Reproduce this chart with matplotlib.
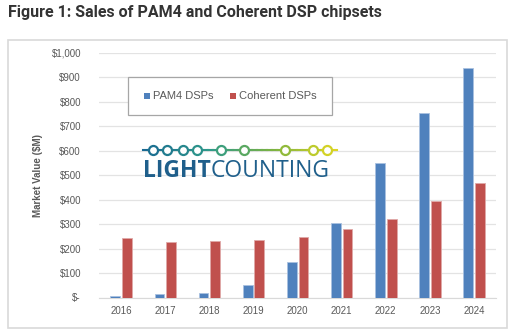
import numpy as np
import matplotlib.pyplot as plt
from matplotlib.patches import Rectangle
from matplotlib.lines import Line2D
from matplotlib.colors import LinearSegmentedColormap

years = ['2016', '2017', '2018', '2019', '2020', '2021', '2022', '2023', '2024']
pam4 = [5, 13, 17, 52, 145, 305, 550, 754, 940]
coherent = [242, 226, 230, 234, 246, 279, 321, 396, 468]
yticks = [0, 100, 200, 300, 400, 500, 600, 700, 800, 900, 1000]
ytick_labels = ['$-', '$100', '$200', '$300', '$400', '$500', '$600', '$700', '$800', '$900', '$1,000']

blue = '#4F81BD'
red = '#C0504D'
grey = '#595959'

fig = plt.figure(figsize=(5.15, 3.34), dpi=100)
W, H = 515, 334

def fx(px):
    return px / W

def fy(py):
    return 1 - py / H

# outer frame
fig.patches.append(Rectangle((fx(8), fy(328)), fx(499), 288 / H, transform=fig.transFigure,
                             fill=False, edgecolor='#d9d9d9', linewidth=1.2))

fig.text(fx(8), fy(13), 'Figure 1: Sales of PAM4 and Coherent DSP chipsets',
         fontsize=11.5, fontweight='bold', color='#333333', family='Roboto', va='center', ha='left')

ax = fig.add_axes([fx(99), fy(297.5), fx(397), 244.5 / H])
x = np.arange(len(years))
ax.bar(x - 0.13, pam4, width=0.22, color=blue, edgecolor='#a9c1e0', linewidth=0.6, zorder=3)
ax.bar(x + 0.135, coherent, width=0.22, color=red, edgecolor='#e0a9a8', linewidth=0.6, zorder=3)
ax.set_xlim(-0.5, len(years) - 0.5)
ax.set_ylim(0, 1000)
ax.set_yticks(yticks)
ax.set_yticklabels(ytick_labels)
ax.set_xticks(x)
ax.set_xticklabels(years)
ax.tick_params(axis='both', length=0, labelsize=7, labelcolor=grey, pad=6)
ax.tick_params(axis='y', pad=13)
ax.yaxis.grid(True, color='#e3e3e3', linewidth=0.9, zorder=0)
for s in ['top', 'right', 'left']:
    ax.spines[s].set_visible(False)
ax.spines['bottom'].set_color('#d9d9d9')
ax.set_ylabel('Market Value ($M)', fontsize=7, color=grey, fontweight='bold', labelpad=6)
for lbl in ax.get_xticklabels() + ax.get_yticklabels():
    lbl.set_family('Liberation Sans')
ax.yaxis.label.set_family('Liberation Sans')

# legend box
fig.patches.append(Rectangle((fx(128), fy(115)), fx(204), 38 / H, transform=fig.transFigure,
                             facecolor='white', edgecolor='#a6a6a6', linewidth=0.9, zorder=5))
for px, col, txt in [(144, blue, 'PAM4 DSPs'), (230, red, 'Coherent DSPs')]:
    fig.patches.append(Rectangle((fx(px), fy(99)), fx(6), 6 / H, transform=fig.transFigure,
                                 facecolor=col, edgecolor='none', zorder=6))
    fig.text(fx(px + 9), fy(96), txt, fontsize=8, color=grey, family='Liberation Sans',
             va='center', ha='left', zorder=6)

# logo
cmap = LinearSegmentedColormap.from_list('lc', ['#1a6a92', '#2f9a8a', '#7cb342', '#e3d821'])
circ_x = [153, 167, 183, 197, 221, 244, 285, 313, 327]
x0, x1 = 143, 337
seg = np.linspace(x0, x1, 40)
for a, b in zip(seg[:-1], seg[1:]):
    fig.lines.append(Line2D([fx(a), fx(b)], [fy(150), fy(150)], transform=fig.transFigure,
                            color=cmap((a - x0) / (x1 - x0)), linewidth=1.5, zorder=6))
for cx in circ_x:
    c = cmap((cx - x0) / (x1 - x0))
    fig.lines.append(Line2D([fx(cx)], [fy(150)], transform=fig.transFigure, marker='o',
                            markersize=6.5, markerfacecolor='white', markeredgecolor=c,
                            markeredgewidth=1.6, zorder=7))
t1 = fig.text(fx(143), fy(171), 'LIGHT', fontsize=16.5, fontweight='bold', color='#1f5f8b',
              family='Open Sans', va='center', ha='left')
fig.canvas.draw()
bb = t1.get_window_extent()
fig.text(bb.x1 / fig.bbox.width, fy(171), 'COUNTING', fontsize=16.5, color='#1f5f8b',
         family='Open Sans', va='center', ha='left')

fig.savefig('out.png', dpi=100)
